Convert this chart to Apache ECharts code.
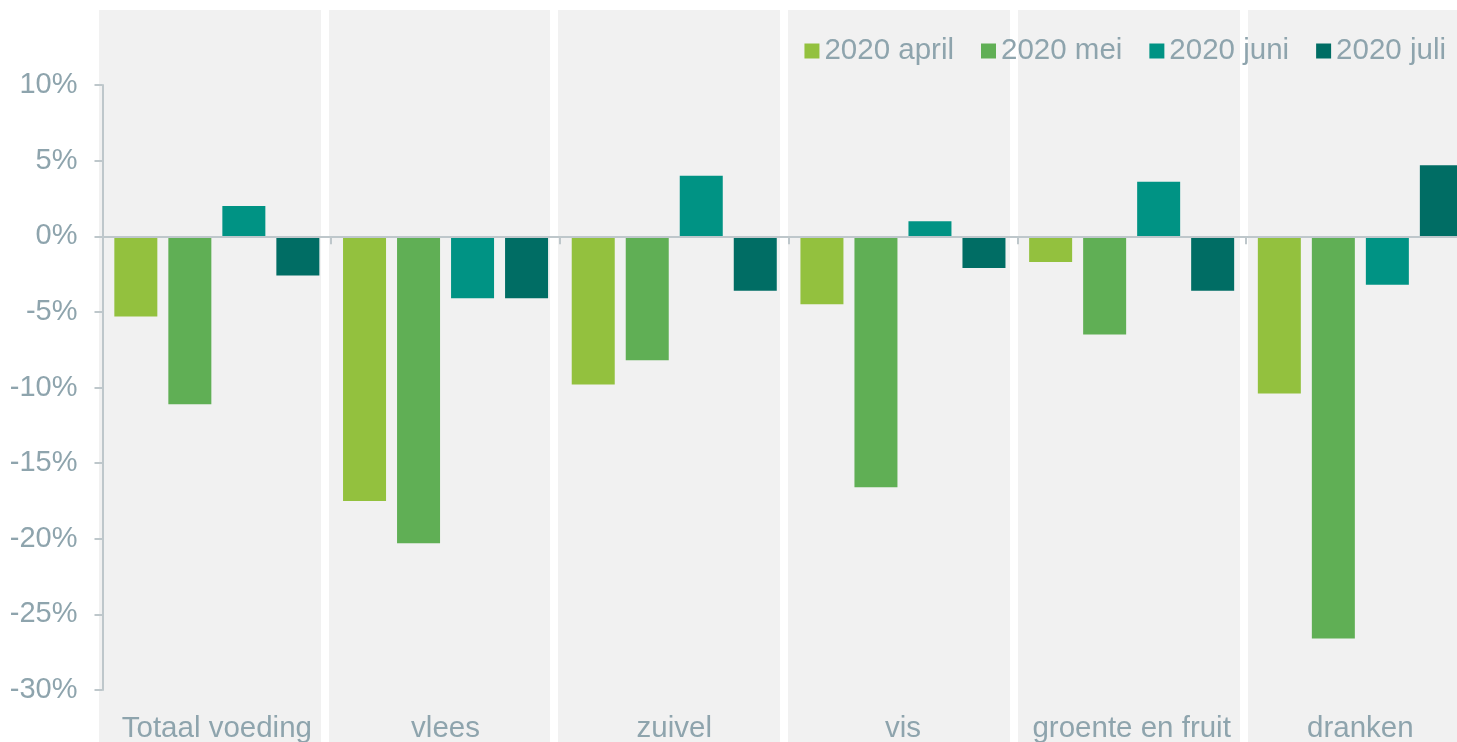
<!DOCTYPE html>
<html>
<head>
<meta charset="utf-8">
<script src="https://cdn.jsdelivr.net/npm/echarts@6/dist/echarts.min.js"></script>
<style>
  html, body { margin: 0; padding: 0; background: #fff; }
  #chart { width: 1457px; height: 742px; }
</style>
</head>
<body>
<div id="chart"></div>
<script>
const categories = ['Totaal voeding', 'vlees', 'zuivel', 'vis', 'groente en fruit', 'dranken'];
const april = [-5.3, -17.5, -9.8, -4.5, -1.7, -10.4];
const mei = [-11.1, -20.3, -8.2, -16.6, -6.5, -26.6];
const juni = [2.0, -4.1, 4.0, 1.0, 3.6, -3.2];
const juli = [-2.6, -4.1, -3.6, -2.1, -3.6, 4.7];
const seriesNames = ['2020 april', '2020 mei', '2020 juni', '2020 juli'];
const colors = ['#93C13E', '#60AF55', '#009384', '#006D64'];

const txt = '#8EA4AD';
const font = "'Liberation Sans', Arial, sans-serif";

const chart = echarts.init(document.getElementById('chart'));
chart.setOption({
    animation: false,
    textStyle: { fontFamily: font },
    legend: {
        data: seriesNames,
        right: 6,
        top: 31,
        icon: 'rect',
        itemWidth: 15,
        itemHeight: 15,
        itemGap: 27,
        textStyle: { color: txt, fontSize: 29.5, fontFamily: font }
    },
    grid: [
        // plot area runs past the right edge of the picture
        { left: 102.5, right: -17.7, top: 85, bottom: 52, outerBoundsMode: 'none' },
        { left: 94.5, right: -16.3, top: 10, bottom: 0, outerBoundsMode: 'none' }
    ],
    xAxis: [
        {
            type: 'category',
            gridIndex: 0,
            data: categories,
            z: 3,
            axisLine: { onZero: true, lineStyle: { color: '#BEC7CB', width: 2 } },
            axisTick: { show: true, length: 8, lineStyle: { color: '#BEC7CB', width: 2 } },
            axisLabel: { show: false }
        },
        {
            type: 'category',
            gridIndex: 0,
            data: categories,
            position: 'bottom',
            axisLine: { show: false, onZero: false },
            axisTick: { show: false },
            axisLabel: { color: txt, fontSize: 29.5, margin: 24, interval: 0, fontFamily: font }
        },
        {
            type: 'category',
            gridIndex: 1,
            data: categories,
            z: 0,
            axisLine: { show: false },
            axisTick: { show: false },
            axisLabel: { show: false },
            splitArea: { show: true, areaStyle: { color: ['#F1F1F1'] } },
            splitLine: { show: true, lineStyle: { color: '#FFFFFF', width: 8 } }
        }
    ],
    yAxis: [
        {
            type: 'value',
            gridIndex: 0,
            min: -30,
            max: 10,
            interval: 5,
            z: 3,
            axisLine: { show: true, lineStyle: { color: '#BEC7CB', width: 2 } },
            axisTick: { show: true, length: 8, lineStyle: { color: '#BEC7CB', width: 2 } },
            splitLine: { show: false },
            axisLabel: {
                color: txt,
                fontSize: 29,
                margin: 25,
                fontFamily: font,
                formatter: v => v + '%'
            }
        },
        {
            type: 'value',
            gridIndex: 1,
            show: false,
            min: 0,
            max: 1
        }
    ],
    series: [april, mei, juni, juli].map((d, i) => ({
        name: seriesNames[i],
        type: 'bar',
        xAxisIndex: 0,
        yAxisIndex: 0,
        data: d,
        barWidth: 43,
        barGap: '25.6%',
        itemStyle: { color: colors[i] }
    }))
});
</script>
</body>
</html>
